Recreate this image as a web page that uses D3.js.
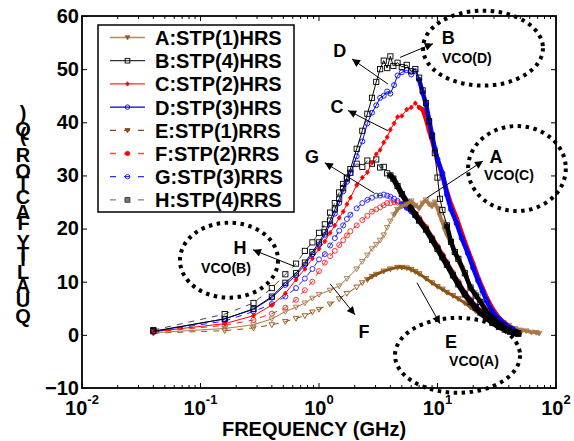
<!DOCTYPE html>
<html><head><meta charset="utf-8">
<script src="https://cdn.jsdelivr.net/npm/d3@7"></script>
<style>body{margin:0;background:#fff}svg{display:block}text{font-family:Arial,"Liberation Sans",sans-serif;font-weight:bold}</style>
</head><body><svg id="c" width="574" height="441"></svg>
<script>
// ---------- data (frequency GHz, Q) ----------
const seriesA = [[0.04,0.4],[0.16,1.2],[0.28,1.9],[0.40,3.0],[0.52,4.4],[0.64,5.2],[0.76,6.0],[0.88,6.9],[1.0,7.6],[1.24,8.4],[1.48,9.2],[1.72,10.6],[2.08,12.4],[2.32,13.8],[2.56,15.0],[2.8,16.2],[3.04,17.0],[3.28,17.8],[3.52,18.8],[3.76,20.2],[4.0,21.4],[4.3,22.6],[4.6,23.6],[5.0,24.2],[5.5,24.6],[6.0,25.2],[6.5,24.4],[7.0,23.8],[7.5,24.8],[8.0,25.4],[8.5,24.6],[9.0,24.2],[9.5,25.0],[10,23.8],[10.5,22.4],[11,21.2],[11.5,19.8],[12,18.8],[13,17.2],[14,15.2],[15,13.8],[16,12.6],[17.5,10.8],[19,8.6],[20.5,8.0],[22,7.2],[24,6.0],[26,5.0],[28,4.2],[30,3.5],[33,2.8],[36,2.3],[40,1.8],[45,1.2],[50,0.9],[56,0.75],[62,0.5],[68,0.45],[72,0.3]];
const seriesB = [[0.04,0.7],[0.16,3.0],[0.28,4.9],[0.40,7.2],[0.52,9.8],[0.64,11.6],[0.76,13.6],[0.88,15.6],[1.0,17.4],[1.12,19.3],[1.24,21.5],[1.36,23.6],[1.48,25.6],[1.6,27.6],[1.72,29.6],[1.84,31.2],[2.08,35.0],[2.32,38.4],[2.56,41.6],[2.8,44.6],[3.04,47.6],[3.28,50.0],[3.52,51.6],[3.76,50.2],[4.0,52.4],[4.24,50.6],[4.6,51.2],[5.0,50.4],[5.5,50.8],[6.0,49.6],[6.5,50.0],[7.0,48.4],[7.5,46.0],[8.0,43.6],[8.5,40.2],[9.0,37.5],[9.5,34.2],[10,29.6],[10.5,25.6],[11,23.5],[12,20.6],[13,17.5],[14,15.6],[15,14.3],[17,11.6],[19,8.9],[21,7.4],[23,6.2],[26,4.4],[30,3.0],[35,1.8],[40,1.0],[45,0.5],[48,0.3]];
const seriesC = [[0.04,0.6],[0.16,2.1],[0.28,3.6],[0.40,5.6],[0.52,7.8],[0.64,10.4],[0.76,12.4],[0.88,14.4],[1.0,16.2],[1.12,17.6],[1.24,19.2],[1.36,20.6],[1.48,22.0],[1.6,23.2],[1.72,24.6],[1.84,25.8],[2.08,28.2],[2.32,29.6],[2.56,30.6],[2.8,32.4],[3.04,34.0],[3.28,34.8],[3.52,36.2],[3.76,37.2],[4.0,38.6],[4.3,39.8],[4.6,41.0],[5.0,41.2],[5.5,42.4],[6.0,42.8],[6.5,43.6],[7.0,42.8],[7.5,42.4],[8.0,40.6],[8.5,38.4],[9.0,36.6],[9.5,34.6],[10,33.0],[11,30.0],[12,27.0],[13,24.6],[14.5,22.0],[16,19.2],[18,16.0],[20,13.4],[22,10.8],[24,8.8],[26,7.0],[29,5.0],[33,3.2],[38,2.0],[43,1.1],[47,0.5]];
const seriesD = [[0.04,0.6],[0.16,3.0],[0.28,4.8],[0.40,7.0],[0.52,9.4],[0.64,11.2],[0.76,13.2],[0.88,15.2],[1.0,17.0],[1.12,18.8],[1.24,20.8],[1.36,22.8],[1.48,24.8],[1.6,27.0],[1.72,28.8],[1.84,30.4],[2.08,33.6],[2.32,36.4],[2.56,39.8],[2.8,41.8],[3.04,43.2],[3.28,44.6],[3.52,45.0],[3.76,45.8],[4.0,45.4],[4.3,47.0],[4.6,48.8],[5.0,49.4],[5.5,49.8],[6.0,49.0],[6.5,49.6],[7.0,48.0],[7.5,45.6],[8.0,43.4],[8.5,40.4],[9.0,37.6],[9.5,35.0],[10,33.0],[11,30.4],[12,26.4],[13,23.6],[14.5,21.0],[16,18.2],[18,15.4],[20,12.6],[22,10.2],[24,8.2],[26,6.4],[29,4.4],[33,3.0],[38,1.8],[43,1.1],[47,0.5]];
const seriesE = [[0.04,0.3],[0.16,0.8],[0.28,1.3],[0.40,1.9],[0.52,2.5],[0.64,3.1],[0.76,3.6],[0.88,4.3],[1.0,4.8],[1.24,5.8],[1.48,6.8],[1.72,7.8],[2.08,9.0],[2.32,9.8],[2.56,10.4],[2.8,11.0],[3.04,11.4],[3.52,12.0],[4.0,12.4],[4.6,12.7],[5.0,12.7],[5.5,12.6],[6.0,12.3],[6.5,11.9],[7.0,11.5],[8,10.6],[9,9.8],[10,9.1],[11,8.6],[12,8.0],[13.5,7.4],[15,6.8],[17,6.0],[19,5.2],[21,4.5],[23,3.9],[26,3.1],[29,2.5],[33,2.0],[37,1.4],[41,0.9],[45,0.6],[50,0.4]];
const seriesF = [[0.04,0.5],[0.16,1.8],[0.28,2.8],[0.40,4.0],[0.52,5.1],[0.64,6.6],[0.76,8.4],[0.88,10.0],[1.0,12.0],[1.12,13.6],[1.24,14.8],[1.36,15.8],[1.48,16.9],[1.6,17.8],[1.72,18.7],[1.84,19.5],[2.08,20.6],[2.32,21.6],[2.56,22.4],[2.8,23.2],[3.04,23.6],[3.28,24.0],[3.52,24.4],[3.76,24.8],[4.0,24.8],[4.3,25.0],[4.6,24.9],[5.0,24.6],[5.5,24.1],[6.0,23.5],[6.5,22.8],[7.0,22.0],[8,20.3],[9,18.4],[10,16.7],[11,15.1],[12,13.7],[13.5,11.7],[15,10.0],[17,8.0],[19,6.6],[21,5.5],[23,4.6],[26,3.4],[29,2.6],[33,1.7],[37,1.2],[41,0.8],[45,0.5]];
const seriesG = [[0.04,0.6],[0.16,2.6],[0.28,4.4],[0.40,5.8],[0.52,7.2],[0.64,8.8],[0.76,10.6],[0.88,12.4],[1.0,14.2],[1.12,15.2],[1.24,16.8],[1.36,18.2],[1.48,19.6],[1.6,20.6],[1.72,21.8],[1.84,22.6],[2.08,23.8],[2.32,24.8],[2.56,25.4],[2.8,25.8],[3.04,26.2],[3.28,26.2],[3.52,26.4],[3.76,26.2],[4.0,26.0],[4.3,25.6],[4.6,25.2],[5.0,24.6],[5.5,23.9],[6.0,23.2],[6.5,22.4],[7.0,21.6],[8,19.9],[9,18.1],[10,16.4],[11,14.8],[12,13.4],[13.5,11.4],[15,9.7],[17,7.8],[19,6.4],[21,5.3],[23,4.4],[26,3.3],[29,2.4],[33,1.6],[37,1.1],[41,0.7],[45,0.4]];
const seriesH = [[0.04,0.9],[0.16,3.9],[0.28,6.0],[0.40,8.8],[0.52,11.4],[0.64,13.4],[0.76,15.8],[0.88,17.4],[1.0,19.2],[1.12,20.8],[1.24,23.0],[1.36,24.8],[1.48,26.8],[1.6,28.4],[1.72,29.4],[1.84,30.5],[2.08,32.2],[2.32,31.6],[2.56,32.8],[2.8,32.2],[3.04,33.0],[3.28,31.5],[3.52,31.6],[3.76,30.4],[4.0,30.0],[4.24,29.4],[4.6,28.0],[5.0,26.5],[5.5,25.0],[6.0,23.8],[6.5,22.6],[7,21.5],[8,19.8],[9,17.9],[10,16.2],[11,14.6],[12,13.2],[13.5,11.2],[15,9.5],[17,7.6],[19,6.2],[21,5.1],[23,4.2],[26,3.1],[29,2.3],[33,1.5],[37,1.0],[41,0.6],[45,0.35],[48,0.2]];

const seriesNames = ["A:STP(1)HRS","B:STP(4)HRS","C:STP(2)HRS","D:STP(3)HRS","E:STP(1)RRS","F:STP(2)RRS","G:STP(3)RRS","H:STP(4)RRS"];
const yTicks = [-10,0,10,20,30,40,50,60];
const xTicks = [0.01,0.1,1,10,100];
const xTickExp = ["-2","-1","0","1","2"];
const xTitle = "FREQUENCY (GHz)";
const yTitle = "QUALITY FACTOR (Q)";

// annotations in data units
const annoArrows = [ // [from, to]
  [[4.83,52.2],[9.16,54.8]], [[3.82,47.2],[1.90,51.9]], [[3.82,38.4],[1.76,42.2]],
  [[2.91,26.7],[1.12,32.4]], [[8.15,25.8],[24.2,32.7]], [[0.604,13.0],[0.277,16.0]],
  [[1.24,9.6],[2.01,3.8]], [[6.71,9.8],[10.5,2.1]]];
const annoLetters = [["B",12.3,54.8],["D",1.50,52.2],["C",1.42,41.8],["G",0.873,32.4],["A",31.2,32.4],["H",0.215,15.2],["F",2.40,-0.56],["E",13.0,-2.45]];
const annoVco = [["VCO(D)",17.7,51.2],["VCO(C)",40.1,29.2],["VCO(B)",0.164,11.7],["VCO(A)",20.3,-5.8]];
const annoEllipses = [[7.55,77.6,61.0,46.9],[18.1,121,39.3,23.3],[0.0671,0.451,21.1,7.0],[4.38,49.7,3.2,-10.9]];

// ---------- drawing ----------
const svg = d3.select("#c");
const x = d3.scaleLog().domain([0.01,100]).range([82,556]);
const y = d3.scaleLinear().domain([-10,60]).range([388,16]);

// band = where the dense sweep markers merge into a thick trace (GHz)
const styles = [
  {data:seriesA,color:"#a8784a",dash:null,mk:"tri",fill:"none",band:4.3,bw:3.5},
  {data:seriesB,color:"#000000",dash:null,mk:"sq",fill:"none",band:12,bw:4.5},
  {data:seriesC,color:"#ff0000",dash:null,mk:"dia",fill:"#ff0000",band:7,bw:4.5},
  {data:seriesD,color:"#0000ff",dash:null,mk:"circ",fill:"none",band:7,bw:4.5},
  {data:seriesE,color:"#8c5214",dash:"6,6",mk:"tri",fill:"none",band:2.5,bw:3},
  {data:seriesF,color:"#ff2020",dash:"6,6",mk:"circ",fill:"none",band:5,bw:4},
  {data:seriesG,color:"#1a1aff",dash:"6,6",mk:"circ",fill:"none",band:5,bw:4},
  {data:seriesH,color:"#444444",dash:"6,6",mk:"sq",fill:"none",mcolor:"#000",band:3.8,bw:5.5}
];
const legendFill = ["#8c5214","none","#ff0000","none","#8c5214","#ff0000","none","#777"];
const legendColor = ["#b08a60","#333","#ff2a2a","#0000cc","#8c4a10","#ff4a4a","#3030ff","#808080"];

function marker(g, type, cx, cy, color, fill, s){
  s = s||1;
  if(type==="tri"){
    g.append("path").attr("d",`M${cx-2.8*s},${cy-2*s}L${cx+2.8*s},${cy-2*s}L${cx},${cy+2.8*s}Z`).attr("fill",fill).attr("stroke",color).attr("stroke-width",0.9);
  } else if(type==="sq"){
    g.append("rect").attr("x",cx-2.6*s).attr("y",cy-2.6*s).attr("width",5.2*s).attr("height",5.2*s).attr("fill",fill).attr("stroke",color).attr("stroke-width",0.9);
  } else if(type==="circ"){
    g.append("circle").attr("cx",cx).attr("cy",cy).attr("r",2.5*s).attr("fill",fill).attr("stroke",color).attr("stroke-width",0.9);
  } else {
    g.append("path").attr("d",`M${cx},${cy-2.4*s}L${cx+2*s},${cy}L${cx},${cy+2.4*s}L${cx-2*s},${cy}Z`).attr("fill",fill).attr("stroke",color).attr("stroke-width",0.8);
  }
}

svg.append("defs").append("clipPath").attr("id","clip").append("rect").attr("x",82).attr("y",16).attr("width",474).attr("height",372);
const plot = svg.append("g").attr("clip-path","url(#clip)");
const line = d3.line().x(d=>x(d[0])).y(d=>y(d[1]));
const order = [4,5,6,7,0,2,3,1];
order.forEach(i=>{
  const s = styles[i];
  const g = plot.append("g");
  g.append("path").attr("d",line(s.data)).attr("fill","none").attr("stroke",s.color).attr("stroke-width",1).attr("stroke-dasharray",s.dash);
  const dense = s.data.filter(d=>d[0]>=s.band);
  g.append("path").attr("d",line(dense)).attr("fill","none").attr("stroke",s.mcolor||s.color).attr("stroke-width",s.bw).attr("stroke-linejoin","round").attr("stroke-linecap","round");
  s.data.forEach(d=>marker(g,s.mk,x(d[0]),y(d[1]),s.mcolor||s.color,s.fill));
});

// axes ticks
const axG = svg.append("g");
axG.append("g").attr("transform","translate(82,0)").call(d3.axisLeft(y).tickValues(yTicks).tickSize(-5).tickPadding(3))
  .call(g=>{g.select(".domain").remove();g.selectAll("text").attr("font-size",20).attr("font-family","Arial,'Liberation Sans',sans-serif").attr("font-weight","bold").attr("fill","#000");g.selectAll("line").attr("stroke-width",1);});
axG.append("g").attr("transform","translate(556,0)").call(d3.axisRight(y).tickValues(yTicks).tickSize(-5).tickFormat(""))
  .call(g=>g.select(".domain").remove());
const minor = [];
for(let e=-2;e<2;e++){for(let m=2;m<10;m++) minor.push(m*Math.pow(10,e));}
[[388,-1],[16,1]].forEach(([yy,dir])=>{
  axG.append("g").selectAll("line").data(xTicks).join("line").attr("x1",d=>x(d)).attr("x2",d=>x(d)).attr("y1",yy).attr("y2",yy+dir*5).attr("stroke","#000");
  axG.append("g").selectAll("line").data(minor).join("line").attr("x1",d=>x(d)).attr("x2",d=>x(d)).attr("y1",yy).attr("y2",yy+dir*3).attr("stroke","#000");
});
const xl = axG.append("g").selectAll("text").data(xTicks).join("text").attr("x",d=>x(d)).attr("y",415).attr("text-anchor","middle").attr("font-size",20);
xl.append("tspan").text("10");
xl.append("tspan").attr("dy",-11).attr("font-size",13).text((d,i)=>xTickExp[i]);
// frame
svg.append("rect").attr("x",82).attr("y",16).attr("width",474).attr("height",372).attr("fill","none").attr("stroke","#000").attr("stroke-width",1.8);

// x title
svg.append("text").attr("x",314).attr("y",436).attr("text-anchor","middle").attr("font-size",20).text(xTitle);
// y title: one text, laid out bottom-to-top with each glyph kept upright
(function(){
  const yt = svg.append("text").attr("font-size",20).text(yTitle);
  const n = yTitle.length, xs = [], ys = [];
  let acc = 0;
  for(let i=0;i<n;i++){
    const w = yt.node().getSubStringLength(i,1);
    xs.push(acc.toFixed(2)); ys.push((-w/2).toFixed(2));
    acc += w;
  }
  yt.attr("x",xs.join(" ")).attr("y",ys.join(" ")).attr("rotate","90")
    .attr("transform","translate(23,323) rotate(-90)");
})();

// legend
const lg = svg.append("g");
lg.append("rect").attr("x",98).attr("y",25).attr("width",196).attr("height",187).attr("fill","#fff").attr("stroke","#000").attr("stroke-width",1.5);
seriesNames.forEach((n,i)=>{
  const ry = 37.5 + i*23.2;
  const s = styles[i];
  lg.append("line").attr("x1",110).attr("x2",145).attr("y1",ry).attr("y2",ry).attr("stroke",legendColor[i]).attr("stroke-width",1.3).attr("stroke-dasharray",s.dash?"6,8":null);
  marker(lg,s.mk,127.5,ry,i===7?"#333":s.color,legendFill[i],0.9);
  lg.append("text").attr("x",155).attr("y",ry+7.5).attr("font-size",20).text(n);
});

// annotations
const an = svg.append("g");
an.append("defs").append("marker").attr("id","ah").attr("viewBox","0 0 10 10").attr("refX",10).attr("refY",5)
  .attr("markerWidth",10).attr("markerHeight",8).attr("markerUnits","userSpaceOnUse").attr("orient","auto")
  .append("path").attr("d","M0,0L10,5L0,10Z").attr("fill","#000");
annoArrows.forEach(([a,b])=>{
  an.append("line").attr("x1",x(a[0])).attr("y1",y(a[1])).attr("x2",x(b[0])).attr("y2",y(b[1])).attr("stroke","#000").attr("stroke-width",1).attr("marker-end","url(#ah)");
});
annoEllipses.forEach(([f1,f2,q1,q2])=>{
  an.append("ellipse").attr("cx",(x(f1)+x(f2))/2).attr("cy",(y(q1)+y(q2))/2).attr("rx",(x(f2)-x(f1))/2).attr("ry",(y(q2)-y(q1))/2)
    .attr("fill","none").attr("stroke","#000").attr("stroke-width",4).attr("stroke-dasharray","3.5,4.5");
});
annoLetters.forEach(([t,f,q])=>an.append("text").attr("x",x(f)).attr("y",y(q)).attr("text-anchor","middle").attr("font-size",18).text(t));
annoVco.forEach(([t,f,q])=>an.append("text").attr("x",x(f)).attr("y",y(q)).attr("text-anchor","middle").attr("font-size",14).text(t));
</script></body></html>
